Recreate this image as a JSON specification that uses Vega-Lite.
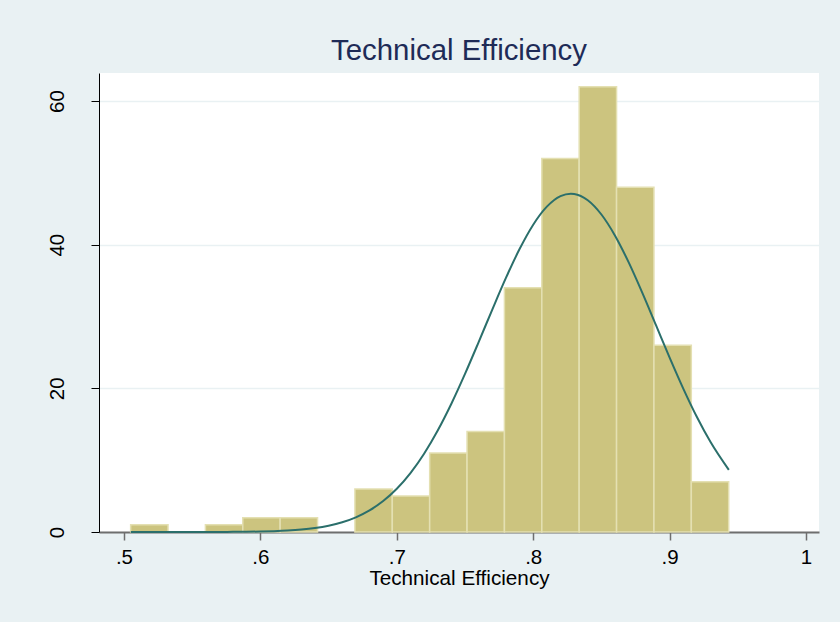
{
  "$schema": "https://vega.github.io/schema/vega-lite/v6.json",
  "autosize": "none",
  "width": 720,
  "height": 459,
  "padding": {"left": 99, "top": 73, "right": 21, "bottom": 90},
  "background": "#E9F1F3",
  "title": {
    "text": "Technical Efficiency",
    "fontSize": 29.4,
    "font": "Liberation Sans",
    "fontWeight": "normal",
    "color": "#1E2B57",
    "anchor": "middle",
    "baseline": "alphabetic",
    "offset": 10.7,
    "dy": 27
  },
  "datasets": {
    "bins": [
      {"bin_start": 0.5049, "bin_end": 0.5323, "count": 1},
      {"bin_start": 0.5597, "bin_end": 0.5871, "count": 1},
      {"bin_start": 0.5871, "bin_end": 0.6145, "count": 2},
      {"bin_start": 0.6145, "bin_end": 0.6419, "count": 2},
      {"bin_start": 0.6693, "bin_end": 0.6967, "count": 6},
      {"bin_start": 0.6967, "bin_end": 0.7241, "count": 5},
      {"bin_start": 0.7241, "bin_end": 0.7515, "count": 11},
      {"bin_start": 0.7515, "bin_end": 0.7789, "count": 14},
      {"bin_start": 0.7789, "bin_end": 0.8063, "count": 34},
      {"bin_start": 0.8063, "bin_end": 0.8337, "count": 52},
      {"bin_start": 0.8337, "bin_end": 0.8611, "count": 62},
      {"bin_start": 0.8611, "bin_end": 0.8885, "count": 48},
      {"bin_start": 0.8885, "bin_end": 0.9159, "count": 26},
      {"bin_start": 0.9159, "bin_end": 0.9433, "count": 7}
    ],
    "curve": [
      {"te": 0.505, "freq": 0.0001},
      {"te": 0.52, "freq": 0.0003},
      {"te": 0.54, "freq": 0.0014},
      {"te": 0.56, "freq": 0.0055},
      {"te": 0.58, "freq": 0.0203},
      {"te": 0.60, "freq": 0.0675},
      {"te": 0.61, "freq": 0.119},
      {"te": 0.62, "freq": 0.203},
      {"te": 0.63, "freq": 0.339},
      {"te": 0.64, "freq": 0.551},
      {"te": 0.65, "freq": 0.875},
      {"te": 0.66, "freq": 1.353},
      {"te": 0.67, "freq": 2.040},
      {"te": 0.68, "freq": 3.002},
      {"te": 0.69, "freq": 4.304},
      {"te": 0.70, "freq": 6.015},
      {"te": 0.71, "freq": 8.200},
      {"te": 0.72, "freq": 10.90},
      {"te": 0.73, "freq": 14.13},
      {"te": 0.74, "freq": 17.86},
      {"te": 0.75, "freq": 22.01},
      {"te": 0.76, "freq": 26.44},
      {"te": 0.77, "freq": 30.97},
      {"te": 0.78, "freq": 35.37},
      {"te": 0.79, "freq": 39.39},
      {"te": 0.80, "freq": 42.78},
      {"te": 0.81, "freq": 45.29},
      {"te": 0.82, "freq": 46.76},
      {"te": 0.8276, "freq": 47.10},
      {"te": 0.83, "freq": 47.07},
      {"te": 0.84, "freq": 46.19},
      {"te": 0.85, "freq": 44.20},
      {"te": 0.86, "freq": 41.25},
      {"te": 0.87, "freq": 37.53},
      {"te": 0.88, "freq": 33.29},
      {"te": 0.89, "freq": 28.79},
      {"te": 0.90, "freq": 24.28},
      {"te": 0.91, "freq": 19.97},
      {"te": 0.92, "freq": 16.01},
      {"te": 0.93, "freq": 12.52},
      {"te": 0.9434, "freq": 8.65}
    ]
  },
  "layer": [
    {
      "data": {"name": "bins"},
      "mark": {"type": "rect", "fill": "#CCC47F", "stroke": "#E4E0B2", "strokeWidth": 1.5},
      "encoding": {
        "x": {
          "field": "bin_start",
          "type": "quantitative",
          "title": "Technical Efficiency",
          "scale": {"domain": [0.4817, 1.0095], "nice": false, "zero": false},
          "axis": {
            "values": [0.5, 0.6, 0.7, 0.8, 0.9, 1],
            "labelExpr": "datum.value >= 1 ? '1' : '.' + round(datum.value * 10)",
            "grid": false,
            "domainColor": "#6E6E6E",
            "domainWidth": 2,
            "tickColor": "#6E6E6E",
            "tickWidth": 1.5,
            "tickSize": 8,
            "labelPadding": 7,
            "labelFontSize": 20.5,
            "titleFontSize": 20.7,
            "titleBaseline": "alphabetic",
            "titleY": 52
          }
        },
        "x2": {"field": "bin_end"},
        "y": {
          "field": "count",
          "type": "quantitative",
          "title": null,
          "scale": {"domain": [0, 63.9], "nice": false},
          "axis": {
            "values": [0, 20, 40, 60],
            "grid": true,
            "gridColor": "#E9F1F3",
            "gridWidth": 1.5,
            "domainColor": "#000000",
            "domainWidth": 1,
            "tickColor": "#000000",
            "tickWidth": 1,
            "tickSize": 8,
            "labelAngle": -90,
            "labelAlign": "center",
            "labelBaseline": "alphabetic",
            "labelPadding": 27.6,
            "labelFontSize": 20.5
          }
        },
        "y2": {"datum": 0}
      }
    },
    {
      "data": {"name": "curve"},
      "mark": {"type": "line", "color": "#2B6F6B", "strokeWidth": 2, "interpolate": "monotone"},
      "encoding": {
        "x": {"field": "te", "type": "quantitative", "title": "Technical Efficiency"},
        "y": {"field": "freq", "type": "quantitative", "title": null}
      }
    }
  ],
  "config": {
    "view": {"stroke": null, "fill": "white"},
    "font": "Liberation Sans",
    "axis": {
      "labelFont": "Liberation Sans",
      "titleFont": "Liberation Sans",
      "labelColor": "#000000",
      "titleColor": "#000000",
      "titleFontWeight": "normal"
    }
  }
}
